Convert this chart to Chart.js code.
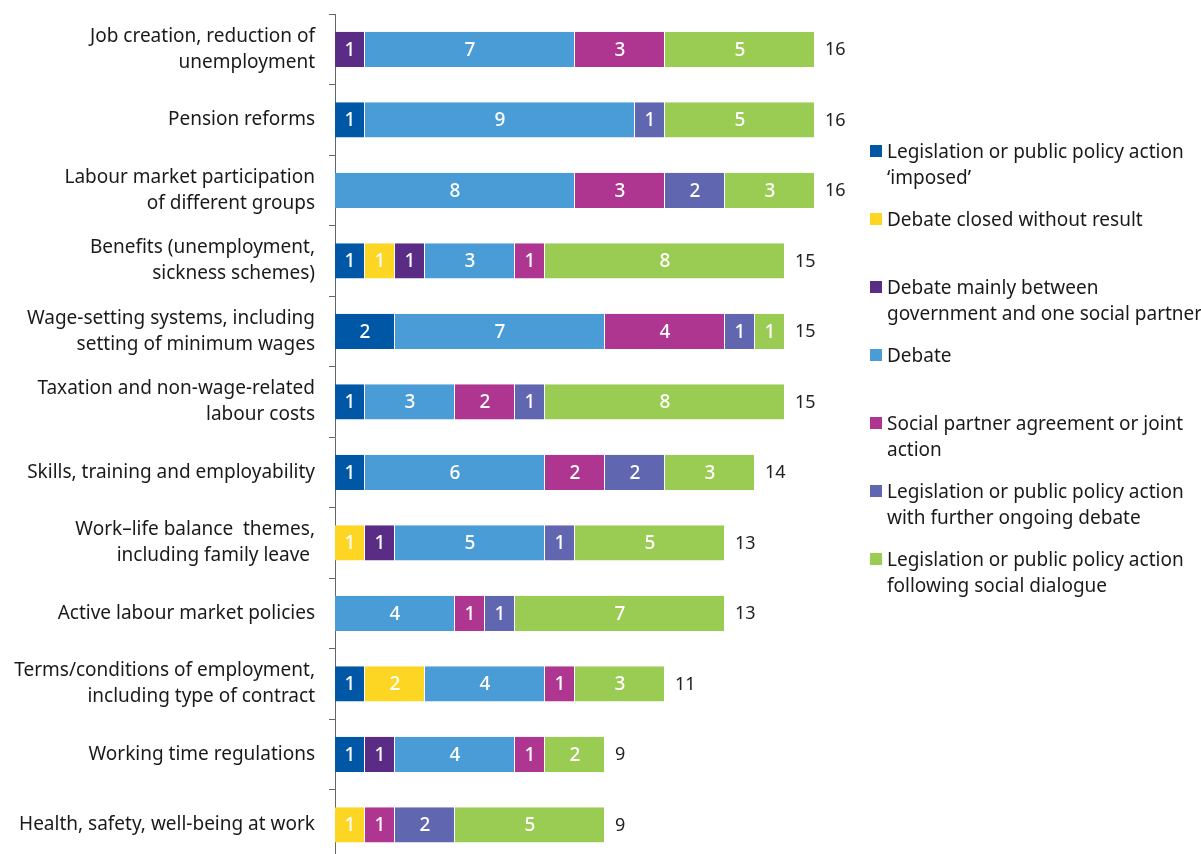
<!DOCTYPE html>
<html>
<head>
<meta charset="utf-8">
<script src="https://cdn.jsdelivr.net/npm/chart.js@4/dist/chart.umd.min.js"></script>
<style>
  html, body { margin: 0; padding: 0; background: #fff; overflow: hidden; }
  #wrap { position: relative; width: 1201px; height: 870px; }
  #legend { position: absolute; left: 870px; top: 138px; font-family: "Noto Sans", sans-serif; font-size: 19px; color: #1a1a1a; }
  #legend .item { position: relative; height: 68px; padding-left: 17px; line-height: 26px; white-space: nowrap; }
  #legend .box { position: absolute; left: 0; top: 7px; width: 12px; height: 12px; }
</style>
</head>
<body>
<div id="wrap">
  <canvas id="chart" width="1201" height="870"></canvas>
  <div id="legend"></div>
</div>
<script>
var categories = [
  ["Job creation, reduction of", "unemployment"],
  "Pension reforms",
  ["Labour market participation", "of different groups"],
  ["Benefits (unemployment,", "sickness schemes)"],
  ["Wage-setting systems, including", "setting of minimum wages"],
  ["Taxation and non-wage-related", "labour costs"],
  "Skills, training and employability",
  ["Work\u2013life balance  themes,", "including family leave "],
  "Active labour market policies",
  ["Terms/conditions of employment,", "including type of contract"],
  "Working time regulations",
  "Health, safety, well-being at work"
];

var seriesNames = [
  ["Legislation or public policy action", "\u2018imposed\u2019"],
  ["Debate closed without result"],
  ["Debate mainly between", "government and one social partner"],
  ["Debate"],
  ["Social partner agreement or joint", "action"],
  ["Legislation or public policy action", "with further ongoing debate"],
  ["Legislation or public policy action", "following social dialogue"]
];

var seriesColors = ["#0057a6", "#fdd523", "#5b2c86", "#4a9cd6", "#ae3590", "#6067b0", "#9acb53"];

var imposedVals   = [0, 1, 0, 1, 2, 1, 1, 0, 0, 1, 1, 0];
var noResultVals  = [0, 0, 0, 1, 0, 0, 0, 1, 0, 2, 0, 1];
var betweenVals   = [1, 0, 0, 1, 0, 0, 0, 1, 0, 0, 1, 0];
var debateVals    = [7, 9, 8, 3, 7, 3, 6, 5, 4, 4, 4, 0];
var agreementVals = [3, 0, 3, 1, 4, 2, 2, 0, 1, 1, 1, 1];
var ongoingVals   = [0, 1, 2, 0, 1, 1, 2, 1, 1, 0, 0, 2];
var followingVals = [5, 5, 3, 8, 1, 8, 3, 5, 7, 3, 2, 5];

var series = [imposedVals, noResultVals, betweenVals, debateVals, agreementVals, ongoingVals, followingVals];

var datasets = series.map(function(vals, i) {
  return {
    label: seriesNames[i].join(" "),
    data: vals,
    backgroundColor: seriesColors[i],
    borderColor: "rgba(255,255,255,0.7)",
    borderWidth: { left: 0, right: 1, top: 0, bottom: 0 },
    borderSkipped: false,
    barPercentage: 0.5,
    categoryPercentage: 1.0
  };
});

var labelFont = "'Noto Sans', sans-serif";

var barLabels = {
  id: "barLabels",
  afterDatasetsDraw: function(chart) {
    var ctx = chart.ctx;
    ctx.save();
    ctx.textBaseline = "middle";
    ctx.textAlign = "center";
    ctx.font = "500 19px " + labelFont;
    ctx.fillStyle = "#ffffff";
    chart.data.datasets.forEach(function(ds, di) {
      var meta = chart.getDatasetMeta(di);
      meta.data.forEach(function(bar, i) {
        if (!ds.data[i]) return;
        ctx.fillText(ds.data[i], (bar.x + bar.base) / 2, bar.y + 1);
      });
    });
    // totals at the end of each bar
    ctx.textAlign = "left";
    ctx.fillStyle = "#222222";
    ctx.font = "18px " + labelFont;
    var last = chart.getDatasetMeta(chart.data.datasets.length - 1);
    categories.forEach(function(c, i) {
      var total = 0;
      series.forEach(function(s) { total += s[i]; });
      var bar = last.data[i];
      ctx.fillText(total, bar.x + 10, bar.y + 1);
    });
    ctx.restore();
  }
};

new Chart(document.getElementById("chart").getContext("2d"), {
  type: "bar",
  data: { labels: categories, datasets: datasets },
  plugins: [barLabels],
  options: {
    indexAxis: "y",
    responsive: false,
    animation: false,
    layout: { padding: { left: 0, right: 326, top: 14, bottom: 10 } },
    plugins: { legend: { display: false }, tooltip: { enabled: false } },
    scales: {
      x: { stacked: true, display: false, min: 0, max: 18 },
      y: {
        stacked: true,
        afterFit: function(scale) {
          scale.width = 335;
          scale.paddingTop = 0;
          scale.paddingBottom = 0;
        },
        border: { display: true, color: "#666666", width: 1 },
        grid: { drawOnChartArea: false, color: "#666666", tickLength: 6, offset: true },
        ticks: { color: "#1a1a1a", font: { family: labelFont, size: 19, lineHeight: 1.37 }, padding: 14 }
      }
    }
  }
});

// legend as html so the wrapped entries line up like the original
var legend = document.getElementById("legend");
seriesNames.forEach(function(lines, i) {
  var item = document.createElement("div");
  item.className = "item";
  var box = document.createElement("span");
  box.className = "box";
  box.style.background = seriesColors[i];
  item.appendChild(box);
  item.appendChild(document.createTextNode(lines[0]));
  for (var k = 1; k < lines.length; k++) {
    item.appendChild(document.createElement("br"));
    item.appendChild(document.createTextNode(lines[k]));
  }
  legend.appendChild(item);
});
</script>
</body>
</html>
